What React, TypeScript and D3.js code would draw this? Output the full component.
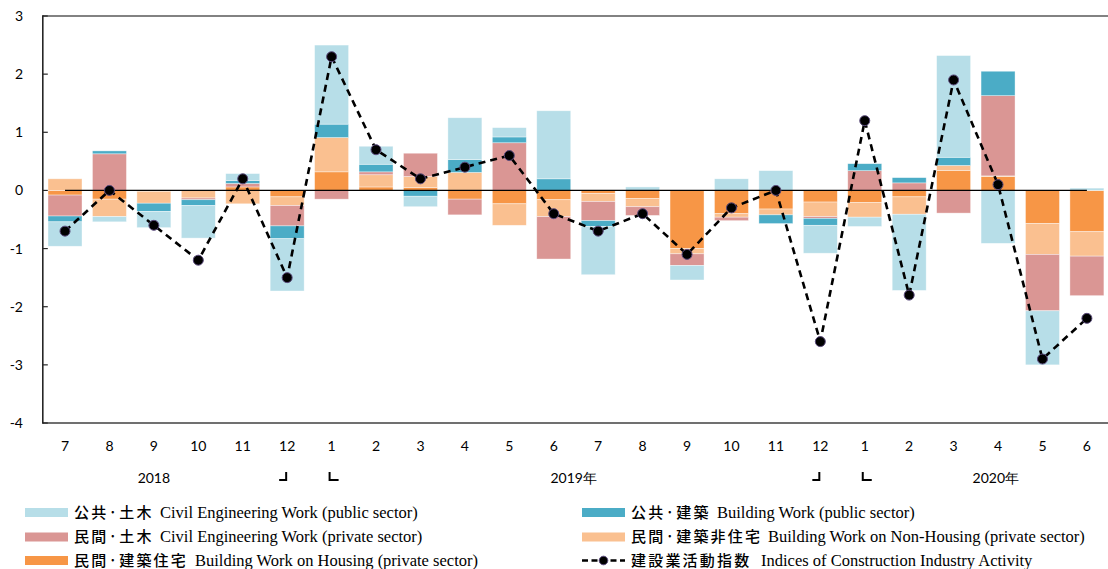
import React from "react";
import * as d3 from "d3";

const months = ["7","8","9","10","11","12","1","2","3","4","5","6","7","8","9","10","11","12","1","2","3","4","5","6"];
const housing = [-0.08,-0.15,-0.02,0,0.06,-0.11,0.32,0.06,0.05,-0.15,-0.23,-0.16,-0.05,-0.14,-1.0,-0.4,-0.32,-0.2,-0.21,-0.11,0.34,0.24,-0.57,-0.71];
const nonHousing = [0.2,-0.3,-0.2,-0.13,-0.23,-0.15,0.59,0.21,0.19,0.31,-0.37,-0.29,-0.14,-0.14,-0.09,-0.06,-0.1,-0.25,-0.25,-0.3,0.09,0.01,-0.53,-0.42];
const civilPrivate = [-0.36,0.63,0,-0.03,0.06,-0.35,-0.15,0.05,0.4,-0.27,0.82,-0.73,-0.33,-0.15,-0.2,-0.06,0,-0.03,0.34,0.13,-0.39,1.38,-0.97,-0.68];
const buildingPublic = [-0.1,0.05,-0.14,-0.1,0.05,-0.22,0.23,0.13,-0.1,0.22,0.1,0.2,-0.1,0,0,0,-0.15,-0.12,0.12,0.09,0.14,0.42,0,0];
const civilPublic = [-0.42,-0.09,-0.28,-0.56,0.12,-0.9,1.36,0.31,-0.18,0.72,0.16,1.17,-0.83,0.06,-0.25,0.2,0.34,-0.48,-0.16,-1.31,1.75,-0.91,-0.93,0.04];
const indexValues = [-0.7,0,-0.6,-1.2,0.2,-1.5,2.3,0.7,0.2,0.4,0.6,-0.4,-0.7,-0.4,-1.1,-0.3,0,-2.6,1.2,-1.8,1.9,0.1,-2.9,-2.2];
const yTicks = [3,2,1,0,-1,-2,-3,-4];
const yearLabels = [
  { text: "2018", at: 2.0 },
  { text: "2019年", at: 11.45 },
  { text: "2020年", at: 20.95 },
];
const boundaryPairs = [[5, 6], [17, 18]];

const seriesKeys = ["housing","nonHousing","civilPrivate","buildingPublic","civilPublic"];
const seriesValues: Record<string, number[]> = { housing, nonHousing, civilPrivate, buildingPublic, civilPublic };
const colors: Record<string, string> = {
  civilPublic: "#b7dee8",
  buildingPublic: "#4bacc6",
  civilPrivate: "#da9694",
  nonHousing: "#fac090",
  housing: "#f79646",
};

const legendItems = [
  { key: "civilPublic", jp: "公共·土木", en: "Civil Engineering Work (public sector)", col: 0, row: 0, enX: 160 },
  { key: "buildingPublic", jp: "公共·建築", en: "Building Work (public sector)", col: 1, row: 0, enX: 717 },
  { key: "civilPrivate", jp: "民間·土木", en: "Civil Engineering Work (private sector)", col: 0, row: 1, enX: 160 },
  { key: "nonHousing", jp: "民間·建築非住宅", en: "Building Work on Non-Housing (private sector)", col: 1, row: 1, enX: 768 },
  { key: "housing", jp: "民間·建築住宅", en: "Building Work on Housing (private sector)", col: 0, row: 2, enX: 195 },
  { key: "index", jp: "建設業活動指数", en: "Indices of Construction Industry Activity", col: 1, row: 2, enX: 761 },
];

export default function App() {
  const W = 1108, H = 569;
  const left = 42.8, step = 44.43;
  const top = 16, bottom = 423;
  const x = d3.scaleBand<number>().domain(d3.range(months.length)).range([left, left + step * months.length]).paddingInner(0.235).paddingOuter(0.1175);
  const y = d3.scaleLinear().domain([-4, 3]).range([bottom, top]);
  const cx = (i: number) => (x(i) as number) + x.bandwidth() / 2;

  const rows = months.map((_, i) => {
    const r: any = { i };
    seriesKeys.forEach((k) => (r[k] = seriesValues[k][i]));
    return r;
  });
  const stacked = d3.stack<any>().keys(seriesKeys).offset(d3.stackOffsetDiverging)(rows);

  const line = d3.line<number>().x((_, i) => cx(i)).y((d) => y(d));
  const sansTick = "Lato, 'Open Sans', sans-serif";
  const jpFont = "'Noto Sans CJK JP', sans-serif";
  const enFont = "'Liberation Serif', 'DejaVu Serif', serif";
  const colX = [25, 582];
  const rowY = [512.5, 537, 560.5];

  return (
    <svg width={W} height={H} style={{ position: "absolute", left: 0, top: 0, background: "#fff" }}>
      {stacked.map((s) => (
        <g key={s.key} fill={colors[s.key]}>
          {s.map((d, i) => {
            const y0 = y(d[0]), y1 = y(d[1]);
            const h = Math.abs(y0 - y1);
            if (h < 0.01) return null;
            return (
              <rect key={i} x={x(i)} width={x.bandwidth()} y={Math.min(y0, y1)} height={h}
                stroke="#ffffff" strokeOpacity={0.55} strokeWidth={0.7} />
            );
          })}
        </g>
      ))}

      <line x1={left} x2={W} y1={top} y2={top} stroke="#595959" strokeWidth={1.6} />
      <line x1={left} x2={W} y1={bottom} y2={bottom} stroke="#404040" strokeWidth={1.6} />
      <line x1={left} x2={left} y1={top - 0.8} y2={bottom + 0.8} stroke="#262626" strokeWidth={1.6} />
      {yTicks.map((t) => (
        <g key={t}>
          <line x1={left} x2={left + 5} y1={y(t)} y2={y(t)} stroke="#262626" strokeWidth={1.2} />
          <text x={23} y={y(t)} dy="0.36em" textAnchor="end" fontFamily={sansTick} fontSize={14} fill="#000">{t}</text>
        </g>
      ))}

      <line x1={cx(0)} x2={cx(months.length - 1)} y1={y(0)} y2={y(0)} stroke="#000" strokeWidth={1.2} />

      <path d={line(indexValues) || ""} fill="none" stroke="#000" strokeWidth={2.6} strokeDasharray="7,5" />
      {indexValues.map((v, i) => (
        <circle key={i} cx={cx(i)} cy={y(v)} r={5} fill="#000" stroke="#5a4a7c" strokeWidth={1} />
      ))}

      {months.map((m, i) => (
        <text key={i} x={cx(i)} y={445.5} dy="0.36em" textAnchor="middle" fontFamily={sansTick} fontSize={14} fill="#000">{m}</text>
      ))}
      {yearLabels.map((yl) => (
        <text key={yl.text} x={cx(0) + yl.at * step} y={477.5} dy="0.36em" textAnchor="middle" fontFamily={sansTick} fontSize={14} fill="#000">{yl.text}</text>
      ))}
      {boundaryPairs.map(([a, b]) => (
        <g key={a} fill="none" stroke="#000" strokeWidth={2}>
          <path d={`M${cx(a) - 8},${480} H${cx(a) - 1} V${472}`} />
          <path d={`M${cx(b) - 2},${472} V${480} H${cx(b) + 7}`} />
        </g>
      ))}

      {legendItems.map((it) => {
        const sx = colX[it.col];
        const yy = rowY[it.row];
        return (
          <g key={it.key}>
            {it.key === "index" ? (
              <g>
                <line x1={sx} x2={sx + 43} y1={yy} y2={yy} stroke="#000" strokeWidth={2.4} strokeDasharray="6,3.5" />
                <circle cx={sx + 21.5} cy={yy} r={4.3} fill="#000" stroke="#5a4a7c" strokeWidth={1} />
              </g>
            ) : (
              <rect x={sx} y={yy - 4.5} width={43} height={9} fill={colors[it.key]} />
            )}
            <text x={sx + 49} y={yy} dy="0.36em" fontFamily={jpFont} fontWeight={500} fontSize={15} letterSpacing={2.2} fill="#000">{it.jp}</text>
            <text x={it.enX} y={yy} dy="0.33em" fontFamily={enFont} fontSize={16.5} fill="#000">{it.en}</text>
          </g>
        );
      })}
    </svg>
  );
}
